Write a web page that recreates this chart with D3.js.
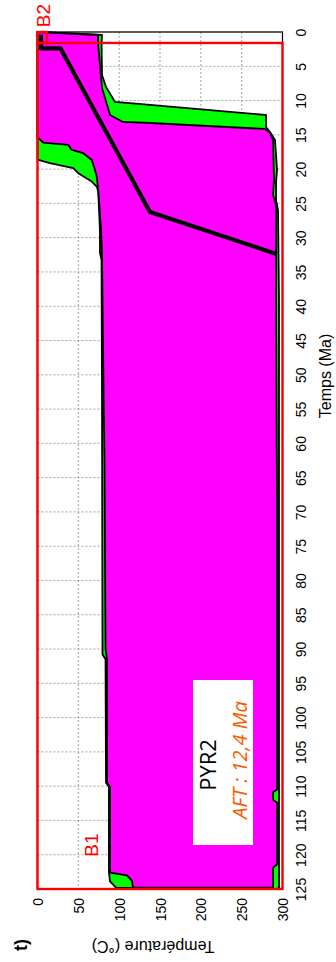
<!DOCTYPE html>
<html>
<head>
<meta charset="utf-8">
<script src="https://cdn.jsdelivr.net/npm/d3@7"></script>
<style>
html,body{margin:0;padding:0;background:#fff;}
svg{display:block;}
</style>
</head>
<body>
<svg id="chart" width="336" height="962"></svg>
<script>
// ---- data (time in Ma, temperature in °C) ----
const timeTicks = [0,5,10,15,20,25,30,35,40,45,50,55,60,65,70,75,80,85,90,95,100,105,110,115,120,125];
const tempTicks = [0,50,100,150,200,250,300];

// acceptable-path envelope (green): [time, temperature]
const acceptableEnvelope = [
  [0,0],[0.4,72.9],[0.44,79.0],[1.6,78.4],[6.27,79.0],[8.02,83.9],[10.2,94.9],[10.64,137.7],
  [12.1,278.6],[12.1,279.8],[13.85,279.8],[14.58,284.7],[15.74,290.8],[20.1,293.3],[21.87,292.1],
  [24.49,292.1],[25.95,294.5],[39.07,295.7],[124.8,295.7],[125,293.3],[124.8,96.1],[123.9,88.8],
  [122.6,87.5],[110.1,87.5],[109.5,83.9],[91.5,83.3],[90.8,79.6],[53.6,79.0],[33.24,78.4],
  [32.2,76.5],[28.86,76.5],[23.28,74.4],[22.55,72.5],[21.82,66.4],[20.6,50.0],[19.87,43.8],
  [19.14,15.3],[18.66,1.0],[18.66,0]
];
// good-path envelope (magenta)
const goodEnvelope = [
  [0,0],[0.44,74.1],[1.6,74.1],[8.16,79.0],[12.1,88.8],[13.12,104.7],[13.27,137.7],[14.14,278.6],
  [14.72,284.7],[15.74,288.4],[21.57,289.6],[23.76,288.4],[25.22,292.1],[39.07,292.1],[68.2,293.3],
  [110.5,293.3],[110.9,288.4],[112.0,288.4],[112.4,293.3],[121.4,293.3],[121.9,288.4],[124.8,288.4],
  [124.8,284.7],[124.8,116.9],[123.8,115.7],[123.0,109.6],[122.6,88.8],[110.1,88.8],[109.5,85.1],
  [91.5,85.1],[90.1,83.3],[62.4,82.0],[45.6,80.2],[32.2,79.0],[28.86,77.8],[23.03,74.4],[21.1,72.5],
  [20.12,70.4],[18.66,66.4],[17.68,56.1],[17.2,41.9],[16.47,37.7],[16.14,7.1],[15.45,1.0],[15.45,0]
];
// best-fit path
const bestPath = [[0.4,4.3],[2.38,4.3],[2.38,28],[26.24,137.7],[32.4,293.3]];
// constraint boxes
const boxNames = ["B1","B2"];
const boxTimes = [[1.6,125],[0,1.6]];
const boxTemps = [[0,300],[0,11.6]];

const sampleName = "PYR2";
const aftLabel = "AFT : 12,4 Ma";

// ---- layout (chart drawn rotated: time runs down, temperature runs right) ----
const svg = d3.select("#chart");
const pL = 37.5, pR = 282.5, pT = 32, pB = 889;
const y = d3.scaleLinear().domain([0,125]).range([pT,pB]);   // time
const x = d3.scaleLinear().domain([0,300]).range([pL,pR]);   // temperature

// grid
const grid = svg.append("g");
grid.selectAll("line.gt").data(timeTicks).join("line")
  .attr("x1",pL).attr("x2",pR).attr("y1",d=>y(d)).attr("y2",d=>y(d))
  .attr("stroke","#8c8c8c").attr("stroke-width",0.8).attr("stroke-dasharray","2,2");
grid.selectAll("line.gT").data(tempTicks).join("line")
  .attr("y1",pT).attr("y2",pB).attr("x1",d=>x(d)).attr("x2",d=>x(d))
  .attr("stroke","#8c8c8c").attr("stroke-width",0.8).attr("stroke-dasharray","2,2");

const line = d3.line().x(d=>x(d[1])).y(d=>y(d[0]));

svg.append("path").datum(acceptableEnvelope).attr("d", d=>line(d)+"Z")
  .attr("fill","#00ff00").attr("stroke","#000").attr("stroke-width",1.8).attr("stroke-linejoin","round");
svg.append("path").datum(goodEnvelope).attr("d", d=>line(d)+"Z")
  .attr("fill","#ff00ff").attr("stroke","#000").attr("stroke-width",1.8).attr("stroke-linejoin","round");
svg.append("path").datum(bestPath).attr("d", line)
  .attr("fill","none").attr("stroke","#000").attr("stroke-width",4.2).attr("stroke-linejoin","round");

// frame
svg.append("rect").attr("x",pL).attr("y",pT).attr("width",pR-pL).attr("height",pB-pT)
  .attr("fill","none").attr("stroke","#000").attr("stroke-width",1.2);

// constraint boxes
svg.selectAll("rect.box").data(boxNames).join("rect")
  .attr("x",(d,i)=>x(boxTemps[i][0])).attr("y",(d,i)=>y(boxTimes[i][0]))
  .attr("width",(d,i)=>x(boxTemps[i][1])-x(boxTemps[i][0]))
  .attr("height",(d,i)=>y(boxTimes[i][1])-y(boxTimes[i][0]))
  .attr("fill","none").attr("stroke","#ff0000").attr("stroke-width",2.4);

// box labels
svg.append("text").text(boxNames[1]).attr("transform","translate(43,15.5) rotate(-90)")
  .attr("text-anchor","middle").attr("dominant-baseline","central")
  .attr("font-family","Liberation Sans, Arial, sans-serif").attr("font-size",19).attr("fill","#ff0000");
svg.append("text").text(boxNames[0]).attr("transform","translate(91,845) rotate(-90)")
  .attr("text-anchor","middle").attr("dominant-baseline","central")
  .attr("font-family","Liberation Sans, Arial, sans-serif").attr("font-size",19).attr("fill","#ff0000");

// time axis (right side)
const yAxis = d3.axisRight(y).tickValues(timeTicks).tickSize(0).tickPadding(0);
const ga = svg.append("g").attr("transform",`translate(${pR},0)`).call(yAxis);
ga.select(".domain").remove();
ga.selectAll("text").attr("x",null).attr("dy",null)
  .attr("transform","translate(18,0) rotate(-90)")
  .attr("text-anchor","middle").attr("dominant-baseline","central")
  .attr("font-family","Liberation Sans, Arial, sans-serif").attr("font-size",14).attr("fill","#000");

// temperature axis (bottom)
const xAxis = d3.axisBottom(x).tickValues(tempTicks).tickSize(0).tickPadding(0);
const gb = svg.append("g").attr("transform",`translate(0,${pB})`).call(xAxis);
gb.select(".domain").remove();
gb.selectAll("text").attr("y",null).attr("dy",null)
  .attr("transform","translate(0,9) rotate(-90)")
  .attr("text-anchor","end").attr("dominant-baseline","central")
  .attr("font-family","Liberation Sans, Arial, sans-serif").attr("font-size",14).attr("fill","#000");

// axis titles
svg.append("text").text("Temps (Ma)").attr("transform","translate(325,376) rotate(-90)")
  .attr("text-anchor","middle").attr("dominant-baseline","central")
  .attr("font-family","Liberation Sans, Arial, sans-serif").attr("font-size",16).attr("fill","#000");
svg.append("text").text("Température (°C)").attr("transform","translate(153,946) rotate(180)")
  .attr("text-anchor","middle").attr("dominant-baseline","central")
  .attr("font-family","Liberation Sans, Arial, sans-serif").attr("font-size",16).attr("fill","#000");
svg.append("text").text("t)").attr("transform","translate(21,945) rotate(-90)")
  .attr("text-anchor","middle").attr("dominant-baseline","central")
  .attr("font-family","Liberation Sans, Arial, sans-serif").attr("font-weight","bold").attr("font-size",18).attr("fill","#000");

// sample label box
svg.append("rect").attr("x",193).attr("y",680).attr("width",60).attr("height",165).attr("fill","#fff");
svg.append("text").text(sampleName).attr("transform","translate(207,765) rotate(-90)")
  .attr("text-anchor","middle").attr("dominant-baseline","central")
  .attr("font-family","Open Sans, sans-serif").attr("font-size",22).attr("fill","#000");
svg.append("text").text(aftLabel).attr("transform","translate(239,760) rotate(-90)")
  .attr("text-anchor","middle").attr("dominant-baseline","central")
  .attr("font-family","Open Sans, sans-serif").attr("font-style","italic").attr("font-size",20).attr("fill","#ff5a00");
</script>
</body>
</html>
